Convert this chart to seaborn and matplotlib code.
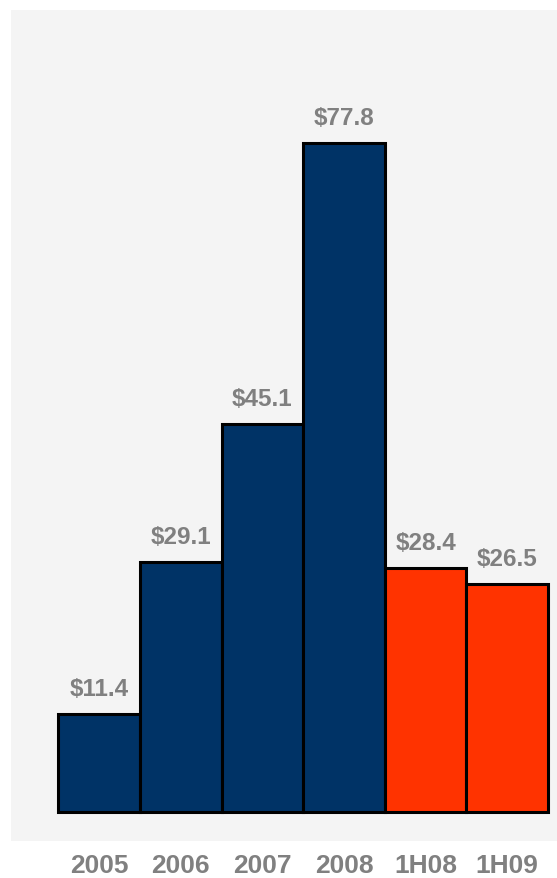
import numpy as np
import pandas as pd
import matplotlib.pyplot as plt
import seaborn as sns

# Data
periods = ['2005', '2006', '2007', '2008', '1H08', '1H09']
values = [11.4, 29.1, 45.1, 77.8, 28.4, 26.5]
bar_colors = ['#003366', '#003366', '#003366', '#003366', '#FF3300', '#FF3300']

df = pd.DataFrame({'period': periods, 'value': values})

sns.set_style('white')
plt.rcParams['font.family'] = ['Liberation Sans', 'DejaVu Sans']

fig = plt.figure(figsize=(5.57, 8.79), dpi=100)
ax = fig.add_axes([11 / 557, 37 / 879, 1 - 11 / 557, 831 / 879])
ax.set_facecolor('#F4F4F4')

sns.barplot(data=df, x='period', y='value', hue='period', palette=bar_colors,
            width=1.0, edgecolor='black', linewidth=2.2, saturation=1,
            legend=False, ax=ax)

# Value labels above bars
for container in ax.containers:
    ax.bar_label(container, fmt='${:.1f}', padding=10, fontsize=17.5,
                 fontweight='bold', color='#808080')

ax.set_xlim(-1.08, 5.61)
ax.set_ylim(-3.37, 93.3)
ax.set_yticks([])
ax.set_xlabel('')
ax.set_ylabel('')
ax.tick_params(axis='x', length=0, pad=9, labelsize=19, labelcolor='#808080')
for lbl in ax.get_xticklabels():
    lbl.set_fontweight('bold')
for s in ax.spines.values():
    s.set_visible(False)

fig.savefig('out.png', dpi=100, facecolor='white')
